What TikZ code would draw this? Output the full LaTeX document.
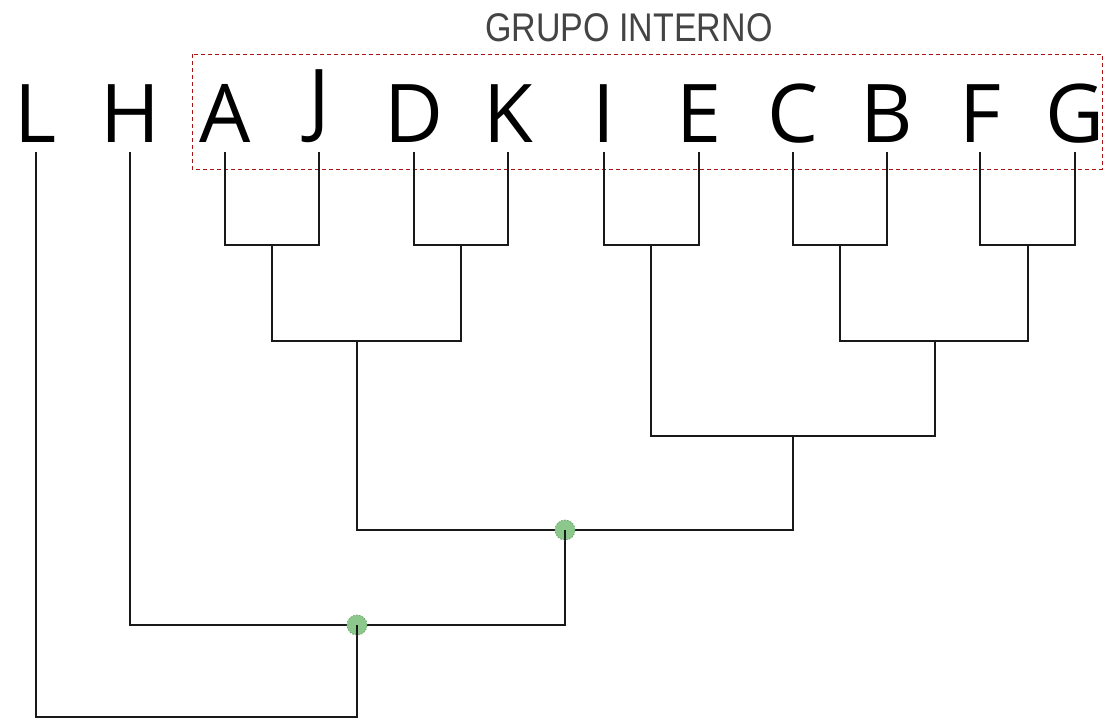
\documentclass[tikz,border=0pt]{standalone}
\usepackage{fontspec}
\setmainfont{Open Sans}
\newfontfamily\narrowfont[FakeStretch=0.85]{Liberation Sans}
\begin{document}
\begin{tikzpicture}[x=1pt,y=-1pt,
  leaf/.style={anchor=south,inner sep=0pt,font=\fontsize{81}{81}\selectfont},
  br/.style={line width=1.7pt,color=black!90},
  dot/.style={circle,minimum size=20pt,inner sep=0pt,fill={rgb,255:red,140;green,200;blue,140},
    draw={rgb,255:red,110;green,165;blue,110},line width=0.8pt,dash pattern=on 1.5pt off 1.5pt},
  grp/.style={draw={rgb,255:red,170;green,20;blue,20},line width=1pt,dash pattern=on 4pt off 3pt}]
\useasboundingbox (0,0) rectangle (1115,720);

% group box and title
\draw[grp] (192,54) rectangle (1102,169);
\node[inner sep=0pt,anchor=base,text={rgb,255:red,68;green,68;blue,68},
  font=\narrowfont\fontsize{40}{40}\selectfont] (title) at (629,41) {GRUPO INTERNO};

% leaves
\foreach \n/\x in {L/36,H/130,A/225,J/319,D/414,K/508,I/604,E/699,C/793,B/887,F/980,G/1075}{
  \node[leaf] (\n) at (\x,143) {\n};
  \coordinate (t\n) at (\x,152);
}

% junctions
\coordinate (jAJ) at (272,245);
\coordinate (jDK) at (461,245);
\coordinate (jIE) at (651,245);
\coordinate (jCB) at (840,245);
\coordinate (jFG) at (1028,245);
\coordinate (jADK) at (357,341);
\coordinate (jCF) at (935,341);
\coordinate (jIC) at (793,436);
\coordinate (jR) at (565,530);
\coordinate (jH) at (357,625);
\coordinate (jL) at (357,717);

% tree
\draw[br] (tA) |- (jAJ) -| (tJ);
\draw[br] (tD) |- (jDK) -| (tK);
\draw[br] (tI) |- (jIE) -| (tE);
\draw[br] (tC) |- (jCB) -| (tB);
\draw[br] (tF) |- (jFG) -| (tG);
\draw[br] (jAJ) |- (jADK) -| (jDK);
\draw[br] (jCB) |- (jCF) -| (jFG);
\draw[br] (jIE) |- (jIC) -| (jCF);
\draw[br] (jADK) |- (jR) -| (jIC);
\draw[br] (tH) |- (jH) -| (jR);
\draw[br] (tL) |- (jL) -- (jH);

% marked nodes
\node[dot] (dR) at (jR) {};
\node[dot] (dH) at (jH) {};
\draw[br] (jR) -- ++(0,10);
\draw[br] (jH) -- ++(0,10);
\end{tikzpicture}
\end{document}
